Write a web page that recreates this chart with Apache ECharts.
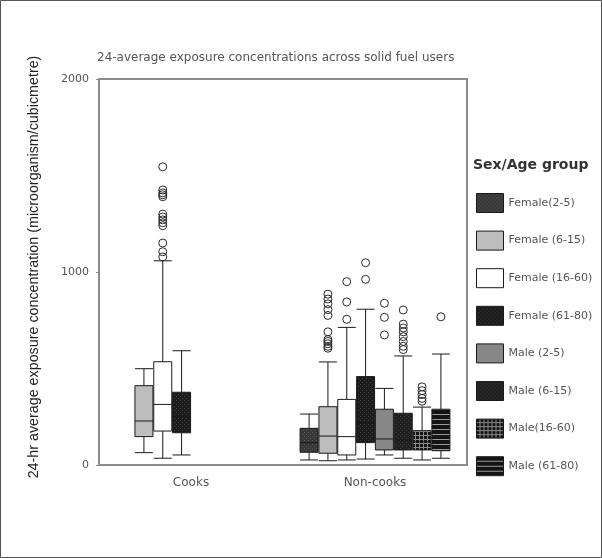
<!DOCTYPE html>
<html>
<head>
<meta charset="UTF-8">
<title>24-average exposure concentrations across solid fuel users</title>
<script src="https://cdn.jsdelivr.net/npm/echarts@6/dist/echarts.min.js"></script>
<style>
  html, body { margin: 0; padding: 0; background: #fff; }
  #main { width: 602px; height: 558px; }
</style>
</head>
<body>
<div id="main"></div>
<script>
var categories = ['Cooks', 'Non-cooks'];
var groups = ['Female(2-5)', 'Female (6-15)', 'Female (16-60)', 'Female (61-80)',
              'Male (2-5)', 'Male (6-15)', 'Male(16-60)', 'Male (61-80)'];
var yTicks = [0, 1000, 2000];

// box stats: [min, Q1, median, Q3, max], null = group not present
var cooksBoxes = [
    null,
    [64, 147, 228, 411, 499],
    [35, 176, 314, 535, 1058],
    [52, 167, 250, 377, 592],
    null, null, null, null
];
var nonCooksBoxes = [
    [26, 66, 116, 190, 264],
    [22, 61, 150, 302, 534],
    [26, 52, 147, 340, 713],
    [31, 116, 220, 458, 807],
    [52, 78, 135, 289, 397],
    [35, 78, 130, 268, 565],
    [26, 78, 120, 178, 300],
    [35, 74, 150, 289, 575]
];
var cooksOutliers = [
    [], [],
    [1545, 1425, 1410, 1400, 1390, 1300, 1285, 1270, 1255, 1240, 1150, 1105, 1078],
    [], [], [], [], []
];
var nonCooksOutliers = [
    [],
    [885, 860, 835, 805, 775, 690, 650, 640, 628, 615, 605],
    [950, 845, 755],
    [1048, 962],
    [838, 765, 674],
    [803, 730, 710, 690, 665, 640, 615, 598],
    [405, 385, 365, 345, 330],
    [768]
];

// fill patterns like the SPSS swatches
function pattern(bg, fg, kind, size) {
    var c = document.createElement('canvas');
    c.width = size; c.height = size;
    var g = c.getContext('2d');
    g.fillStyle = bg;
    g.fillRect(0, 0, size, size);
    g.fillStyle = fg;
    if (kind === 'dots') { g.fillRect(0, 0, 1, 1); g.fillRect(2, 2, 1, 1); }
    if (kind === 'grid') { g.fillRect(0, size - 1, size, 1); g.fillRect(size - 1, 0, 1, size); }
    if (kind === 'lines') { g.fillRect(0, size - 1, size, 1); }
    return {image: c, repeat: 'repeat'};
}
var fills = [
    pattern('#383838', '#5a5a5a', 'dots', 4),
    '#bdbdbd',
    '#ffffff',
    pattern('#1c1c1c', '#3c3c3c', 'dots', 4),
    '#878787',
    pattern('#202020', '#3e3e3e', 'dots', 4),
    pattern('#141414', '#8a8a8a', 'grid', 4),
    pattern('#141414', '#9a9a9a', 'lines', 5)
];

var series = [];
var outlierPoints = [];
groups.forEach(function (name, i) {
    var items = [];
    if (cooksBoxes[i]) items.push([0].concat(cooksBoxes[i]));
    if (nonCooksBoxes[i]) items.push([1].concat(nonCooksBoxes[i]));
    series.push({
        name: name,
        type: 'boxplot',
        data: items,
        encode: {x: 0, y: [1, 2, 3, 4, 5]},
        boxWidth: [18, 18],
        itemStyle: {color: fills[i], borderColor: '#1a1a1a', borderWidth: 1},
        emphasis: {disabled: true}
    });
    cooksOutliers[i].forEach(function (v) { outlierPoints.push([0, v, i]); });
    nonCooksOutliers[i].forEach(function (v) { outlierPoints.push([1, v, i]); });
});

// outliers placed on the same slot as their box
series.push({
    type: 'custom',
    data: outlierPoints,
    encode: {x: 0, y: 1},
    z: 5,
    renderItem: function (params, api) {
        var p = api.coord([api.value(0), api.value(1)]);
        var band = api.size([1, 0])[0];
        var n = groups.length;
        var avail = band * 0.8 - 2;
        var gap = avail / n * 0.3;
        var w = (avail - gap * (n - 1)) / n;
        var x = p[0] + w / 2 - avail / 2 + api.value(2) * (w + gap);
        return {
            type: 'circle',
            shape: {cx: x, cy: p[1], r: 4},
            style: {fill: 'none', stroke: '#2a2a2a', lineWidth: 1}
        };
    }
});

var myChart = echarts.init(document.getElementById('main'));
myChart.setOption({
    animation: false,
    title: [
        {
            text: '24-average exposure concentrations across solid fuel users',
            left: 92, top: 47,
            textStyle: {fontFamily: 'DejaVu Sans', fontSize: 12, fontWeight: 'normal', color: '#555'}
        },
        {
            text: 'Sex/Age group',
            left: 468, top: 153,
            textStyle: {fontFamily: 'DejaVu Sans', fontSize: 14, fontWeight: 'bold', color: '#333'}
        }
    ],
    legend: {
        orient: 'vertical',
        left: 471, top: 188,
        itemWidth: 27, itemHeight: 19, itemGap: 17.6,
        icon: 'rect',
        selectedMode: false,
        textStyle: {fontFamily: 'DejaVu Sans', fontSize: 11, color: '#555'},
        data: groups.map(function (g, i) {
            return {name: g, itemStyle: {color: fills[i], borderColor: '#1a1a1a', borderWidth: 1}};
        })
    },
    grid: {
        left: 99, right: 135, top: 79, bottom: 93,
        show: true, borderColor: '#8c8c8c', borderWidth: 2
    },
    xAxis: {
        type: 'category',
        data: categories,
        axisLine: {lineStyle: {color: '#8c8c8c', width: 2}},
        axisTick: {alignWithLabel: true, length: 4, lineStyle: {color: '#666'}},
        axisLabel: {margin: 12, fontFamily: 'DejaVu Sans', fontSize: 12, color: '#555'}
    },
    yAxis: {
        type: 'value',
        min: yTicks[0], max: yTicks[yTicks.length - 1], interval: yTicks[1] - yTicks[0],
        name: '24-hr average exposure concentration (microorganism/cubicmetre)',
        nameLocation: 'middle', nameRotate: 90, nameGap: 58,
        nameTextStyle: {fontFamily: 'Liberation Sans', fontSize: 14.3, color: '#222', padding: [0, 0, 0, 10]},
        axisLine: {show: true, lineStyle: {color: '#8c8c8c', width: 2}},
        axisTick: {show: true, length: 3, lineStyle: {color: '#888'}},
        splitLine: {show: false},
        axisLabel: {
            margin: 10, fontFamily: 'DejaVu Sans', fontSize: 11, color: '#555',
            formatter: function (v) { return String(v); }
        }
    },
    graphic: [{
        type: 'rect',
        shape: {x: 0.5, y: 0.5, width: 601, height: 557},
        style: {fill: 'none', stroke: '#555', lineWidth: 1},
        silent: true
    }],
    series: series
});
</script>
</body>
</html>
